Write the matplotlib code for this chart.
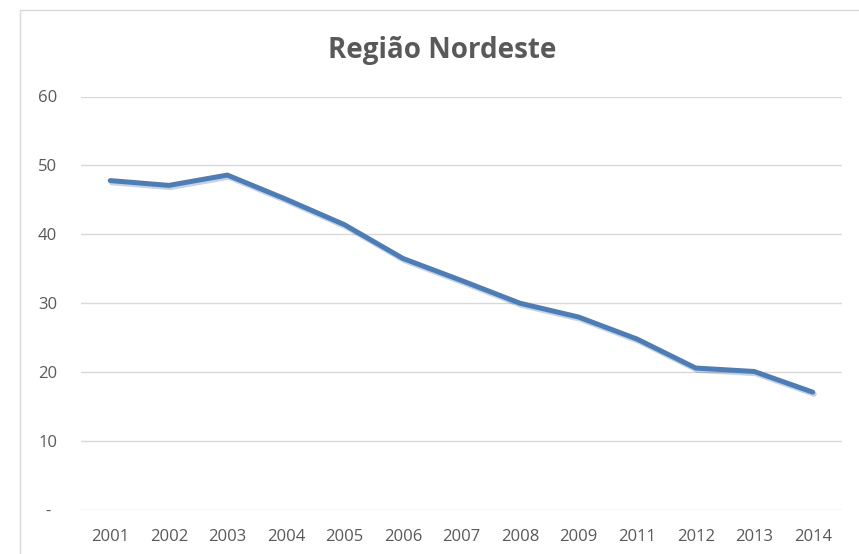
import matplotlib
matplotlib.use("Agg")
import matplotlib.pyplot as plt
import matplotlib.patheffects as pe
from matplotlib.patches import Rectangle

years = ["2001", "2002", "2003", "2004", "2005", "2006", "2007",
         "2008", "2009", "2011", "2012", "2013", "2014"]
values = [47.8, 47.1, 48.6, 45.1, 41.4, 36.5, 33.3,
          30.0, 28.0, 24.8, 20.6, 20.1, 17.1]
yticks = [0, 10, 20, 30, 40, 50, 60]
ytick_labels = ["-", "10", "20", "30", "40", "50", "60"]
title = "Região Nordeste"

plt.rcParams['font.family'] = ['Open Sans', 'DejaVu Sans']
W, H = 859, 554
fig = plt.figure(figsize=(W / 100, H / 100), dpi=100)
fig.patch.set_facecolor("white")

# chart frame (extends off the right/bottom edge as in the reference)
fig.patches.append(Rectangle((20 / W, -0.05), 1.0, (H - 10) / H + 0.05,
                             transform=fig.transFigure, fill=False,
                             edgecolor="#D9D9D9", linewidth=1.0, zorder=0))

left, right = 81 / W, 842 / W
bottom, top = (H - 510) / H, (H - 96.5) / H
ax = fig.add_axes([left, bottom, right - left, top - bottom])

x = list(range(len(years)))
ax.plot(x, values, color="#4A7EBB", linewidth=3.6, solid_capstyle="round",
        solid_joinstyle="round", zorder=3,
        path_effects=[pe.SimpleLineShadow(offset=(1.0, -1.5), shadow_color="#000000",
                                          alpha=0.18, linewidth=3.8),
                      pe.Normal()])

ax.set_xlim(-0.5, len(years) - 0.5)
ax.set_ylim(0, 60)
ax.set_yticks(yticks)
ax.set_yticklabels(ytick_labels)
ax.set_xticks(x)
ax.set_xticklabels(years)
ax.grid(axis="y", color="#D9D9D9", linewidth=1.0)
ax.set_axisbelow(True)
for s in ax.spines.values():
    s.set_visible(False)
ax.tick_params(axis="both", length=0, labelsize=12, labelcolor="#595959")
ax.tick_params(axis="y", pad=24)
ax.tick_params(axis="x", pad=14)
for lab in ax.get_yticklabels():
    lab.set_horizontalalignment("center")

fig.text(442.5 / W, (H - 58) / H, title, ha="center", va="baseline",
         fontsize=20, fontweight="bold", color="#595959")

fig.savefig("out.png", dpi=100, facecolor="white")
